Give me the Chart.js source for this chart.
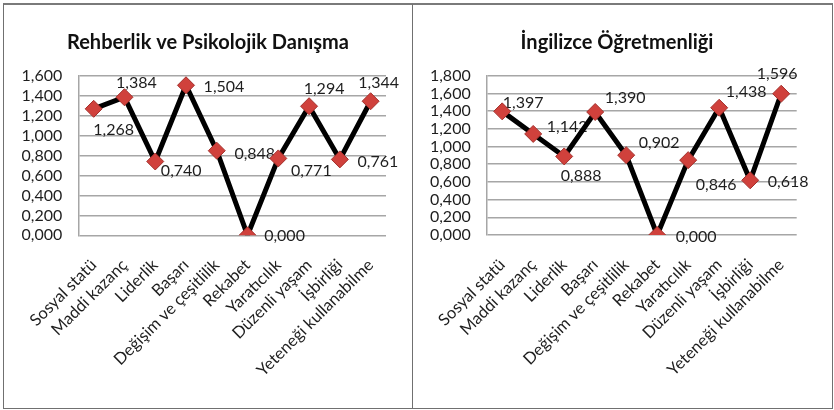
<!DOCTYPE html>
<html><head><meta charset="utf-8">
<script src="https://cdn.jsdelivr.net/npm/chart.js@4"></script>
<style>
body{margin:0;background:#fff;width:834px;height:410px;overflow:hidden;position:relative;}
#frame{position:absolute;left:3px;top:3px;width:830px;height:406px;border-left:1px solid #707070;border-right:1px solid #707070;border-bottom:1px solid #707070;border-top:2px solid #7a7a7a;box-sizing:border-box;}
#divider{position:absolute;left:412px;top:4px;width:1px;height:404px;background:#707070;}
.c{position:absolute;top:0;height:410px;}
</style></head><body>
<div id="frame"></div><div id="divider"></div>
<div class="c" style="left:4px;width:408px;"><canvas id="c1"></canvas></div>
<div class="c" style="left:413px;width:420px;"><canvas id="c2"></canvas></div>
<script>
const categories = ['Sosyal statü','Maddi kazanç','Liderlik','Başarı','Değişim ve çeşitlilik','Rekabet','Yaratıcılık','Düzenli yaşam','İşbirliği','Yeteneği kullanabilme'];
const rpdTitle = 'Rehberlik ve Psikolojik Danışma';
const rpdValues = [1.268, 1.384, 0.740, 1.504, 0.848, 0.000, 0.771, 1.294, 0.761, 1.344];
const rpdAxisMax = 1.6;
const ingTitle = 'İngilizce Öğretmenliği';
const ingValues = [1.397, 1.142, 0.888, 1.390, 0.902, 0.000, 0.846, 1.438, 0.618, 1.596];
const ingAxisMax = 1.8;
const tickStep = 0.2;

// label placement offsets (style only)
const rpdLabelOffsets = [[20,21],[12,-14],[26,9],[38,2],[38,3],[37,1],[33,12],[15,-17],[38,2],[8,-18]];
const ingLabelOffsets = [[21,-9],[34,-7],[17,19],[30,-14],[33,-12],[39,2],[28,25],[27,-16],[38,2],[-4,-20]];

const FONT = 'Lato, Calibri, Carlito, sans-serif';
const TEXT = '#1e1e1e';
const fmt = v => v.toFixed(3).replace('.', ',');

const labelPlugin = {
  id: 'valueLabels',
  beforeDatasetsDraw(chart) {
    const o = chart.options.plugins.valueLabels;
    const meta = chart.getDatasetMeta(0);
    const ctx = chart.ctx;
    ctx.save();
    ctx.font = '16px ' + FONT;
    ctx.fillStyle = TEXT;
    ctx.textAlign = 'center';
    ctx.textBaseline = 'middle';
    meta.data.forEach((pt, i) => {
      const v = chart.data.datasets[0].data[i];
      const off = o.offsets[i];
      ctx.fillText(fmt(v), pt.x + off[0], pt.y + off[1]);
    });
    ctx.restore();
  },
  afterDraw(chart) {
    const o = chart.options.plugins.valueLabels;
    const ctx = chart.ctx;
    ctx.save();
    ctx.font = 'bold 20px ' + FONT;
    ctx.fillStyle = '#111';
    ctx.textAlign = 'center';
    ctx.textBaseline = 'middle';
    ctx.fillText(o.title, o.titleX, o.titleY);
    ctx.restore();
  }
};

function makeChart(id, values, axisMax, offsets, title, yWidth, padRight, xHeight, titleX) {
  return new Chart(document.getElementById(id), {
    type: 'line',
    data: {
      labels: categories,
      datasets: [{
        data: values,
        borderColor: '#000',
        borderWidth: 5,
        tension: 0,
        pointStyle: 'rectRot',
        pointRadius: 8.5,
        pointHoverRadius: 8.5,
        pointBackgroundColor: '#d0413c',
        pointBorderColor: '#a3302c',
        pointBorderWidth: 1
      }]
    },
    options: {
      responsive: true,
      maintainAspectRatio: false,
      animation: false,
      events: [],
      layout: { padding: { top: 75.7, right: padRight, left: 0, bottom: 0 } },
      plugins: {
        legend: { display: false },
        title: { display: false },
        tooltip: { enabled: false },
        valueLabels: { offsets: offsets, title: title, titleX: titleX, titleY: 43 }
      },
      scales: {
        x: {
          offset: true,
          grid: { display: false, drawTicks: false },
          border: { display: false },
          ticks: { minRotation: 45, maxRotation: 45, padding: 20, color: TEXT, font: { family: FONT, size: 16.5 }, autoSkip: false },
          afterFit(s) { s.height = xHeight; }
        },
        y: {
          min: 0, max: axisMax,
          grid: { color: '#a6a6a6', lineWidth: 1.5, drawTicks: false },
          border: { display: true, color: '#a6a6a6', width: 1.5 },
          ticks: { stepSize: tickStep, autoSkip: false, padding: 16, color: TEXT, font: { family: FONT, size: 16 }, callback: v => fmt(v) },
          afterFit(s) { s.width = yWidth; }
        }
      }
    },
    plugins: [labelPlugin]
  });
}

makeChart('c1', rpdValues, rpdAxisMax, rpdLabelOffsets, rpdTitle, 74.3, 26, 174.7, 204);
makeChart('c2', ingValues, ingAxisMax, ingLabelOffsets, ingTitle, 73.7, 36.3, 175, 204);
</script>
</body></html>
